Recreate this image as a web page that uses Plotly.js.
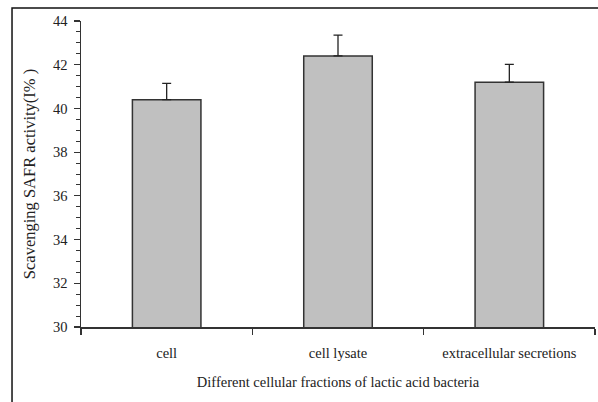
<!DOCTYPE html>
<html><head><meta charset="utf-8">
<script src="https://cdn.plot.ly/plotly-3.0.1.min.js"></script>
<style>html,body{margin:0;padding:0;background:#fff}</style>
</head><body>
<div id="chart" style="width:598px;height:402px"></div>
<script>
const categories = ["cell", "cell lysate", "extracellular secretions"];
const values = [40.4, 42.4, 41.2];
const errors = [0.75, 0.95, 0.82];
const yTicks = [30, 32, 34, 36, 38, 40, 42, 44];

const font = "'Liberation Serif','Times New Roman',serif";
const trace = {
  type: "bar",
  x: categories,
  y: values,
  width: 0.4,
  marker: {color: "#c0c0c0", line: {color: "#333", width: 1.5}},
  error_y: {type: "data", array: errors, symmetric: false, arrayminus: [0,0,0], color: "#222", thickness: 1.3, width: 4.5},
  hoverinfo: "none"
};
const layout = {
  width: 598, height: 402,
  margin: {l: 81, r: 3, t: 21, b: 75},
  paper_bgcolor: "#fff", plot_bgcolor: "#fff",
  showlegend: false,
  font: {family: font, size: 14.5, color: "#222"},
  xaxis: {
    type: "category",
    showline: true, linecolor: "#333", linewidth: 1.5,
    ticks: "outside", tickson: "boundaries", ticklen: 6, tickcolor: "#333", tickwidth: 1.2,
    ticklabelstandoff: 12,
    tickfont: {family: font, size: 14.5, color: "#222"},
    title: {text: "Different cellular fractions of lactic acid bacteria", font: {family: font, size: 14.5, color: "#222"}, standoff: 17},
    range: [-0.5, 2.5], fixedrange: true
  },
  yaxis: {
    range: [30, 44], tickvals: yTicks, ticktext: yTicks.map(String),
    showline: true, linecolor: "#333", linewidth: 1.5,
    showgrid: false, zeroline: false,
    ticks: "outside", ticklen: 6, tickcolor: "#333", tickwidth: 1.2,
    ticklabelstandoff: 3,
    minor: {dtick: 0.5, tick0: 30, ticks: "outside", ticklen: 4, tickcolor: "#333", tickwidth: 1, showgrid: false},
    tickfont: {family: font, size: 14.5, color: "#222"},
    title: {text: "Scavenging SAFR activity(I% )", font: {family: font, size: 16.5, color: "#222"}, standoff: 13},
    fixedrange: true
  },
  shapes: [{
    type: "rect", xref: "paper", yref: "paper",
    x0: -0.1342, x1: 1.2, y0: -0.4, y1: 1.0425,
    line: {color: "#111", width: 1.5}, fillcolor: "rgba(0,0,0,0)", layer: "below"
  }]
};
Plotly.newPlot("chart", [trace], layout, {staticPlot: true, displayModeBar: false});
</script>
</body></html>
